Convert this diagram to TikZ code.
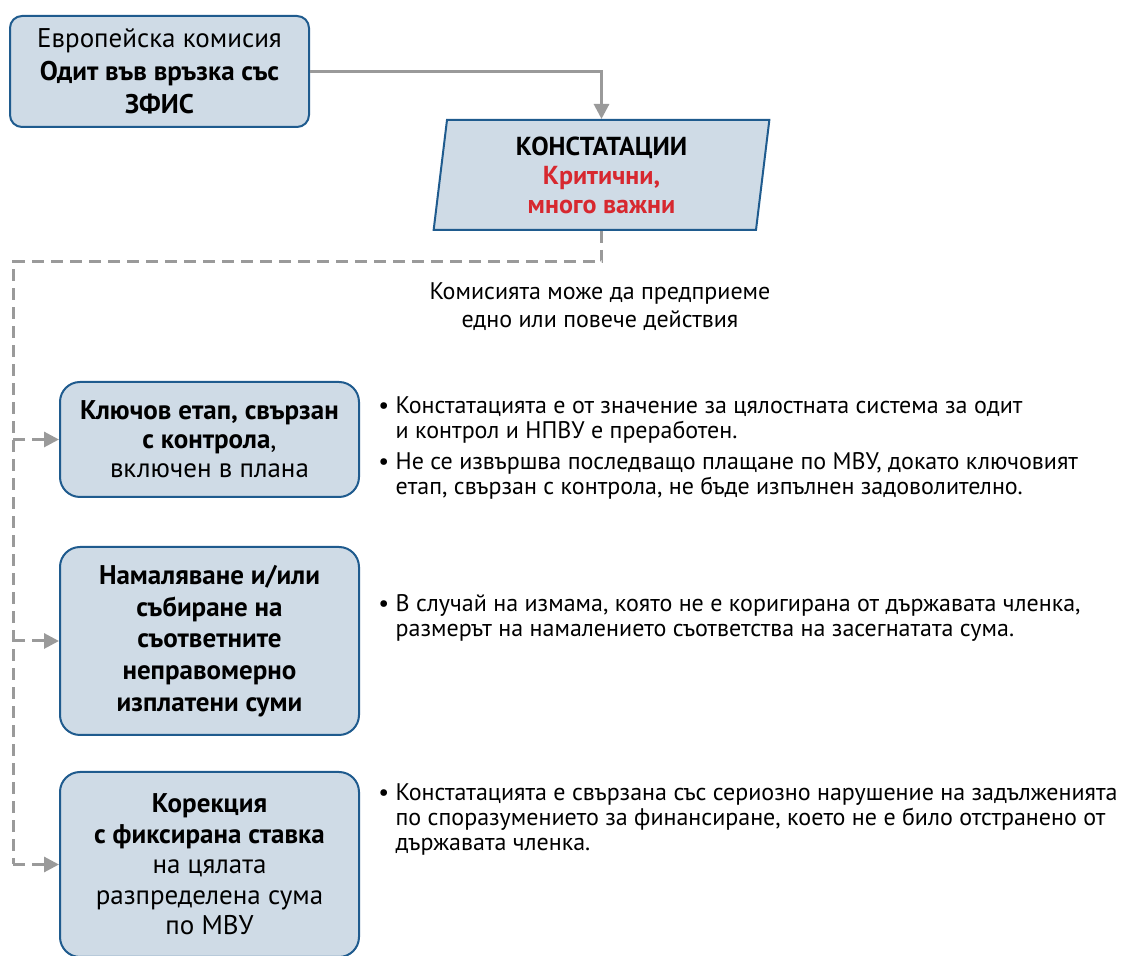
\documentclass[tikz,border=0pt]{standalone}
\usepackage{fontspec}
\setmainfont{PT Sans}
\usetikzlibrary{arrows.meta,positioning,shapes.geometric}
\definecolor{boxfill}{HTML}{CFDBE6}
\definecolor{boxline}{HTML}{1F5B8E}
\definecolor{linkgray}{HTML}{9A9A9A}
\definecolor{alertred}{HTML}{D7282F}
\tikzset{
  stage/.style={draw=boxline, fill=boxfill, line width=1pt, rounded corners=10pt,
    minimum width=149.5pt, align=center, inner sep=0pt,
    font=\fontsize{13.5}{15}\selectfont},
  finding/.style={trapezium, trapezium left angle=84.5, trapezium right angle=95.5,
    trapezium stretches=true, draw=boxline, fill=boxfill, line width=1pt,
    minimum width=168.5pt, minimum height=55pt, align=center, inner sep=0pt,
    font=\fontsize{13}{14.5}\selectfont},
  note/.style={align=left, anchor=north west, inner sep=0pt,
    font=\fontsize{12}{12.5}\selectfont},
  link/.style={linkgray, line width=1.5pt, -{Triangle[length=7.5pt,width=7.5pt]}},
  dashlink/.style={link, dash pattern=on 6pt off 3.5pt},
}
\begin{document}
\begin{tikzpicture}[x=0.5pt,y=-0.5pt]
  \useasboundingbox (0,0) rectangle (1121,956);
  \node[stage,rounded corners=6pt,minimum height=55.5pt,
        font=\fontsize{13.5}{16.5}\selectfont] (eu) at (159.5,71.5)
    {Европейска комисия\\\textbf{Одит във връзка със}\\\textbf{ЗФИС}};
  \node[finding] (findings) at (601.5,175)
    {\textbf{КОНСТАТАЦИИ}\\\textcolor{alertred}{\textbf{Критични,}}\\\textcolor{alertred}{\textbf{много важни}}};
  \node[align=center,font=\fontsize{12}{14}\selectfont] (actions) at (600,307)
    {Комисията може да предприеме\\едно или повече действия};
  \node[stage,minimum height=57.5pt,font=\fontsize{13.5}{14.5}\selectfont] (milestone) at (209.5,439.5)
    {\textbf{Ключов етап, свързан}\\\textbf{с контрола},\\включен в плана};
  \node[stage,minimum height=94pt,font=\fontsize{13.5}{15.8}\selectfont] (reduction) at (209.5,641)
    {\textbf{Намаляване и/или}\\\textbf{събиране на}\\\textbf{съответните}\\\textbf{неправомерно}\\\textbf{изплатени суми}};
  \node[stage,minimum height=92.5pt,font=\fontsize{13.5}{15.3}\selectfont] (correction) at (209.5,864.5)
    {\textbf{Корекция}\\\textbf{с фиксирана ставка}\\на цялата\\разпределена сума\\по МВУ};
  % bullet texts
  \node[note] (note1a) at (378,396)
    {• Констатацията е от значение за цялостната система за одит\\\hphantom{• }и контрол и НПВУ е преработен.};
  \node[note] (note1b) at (378,452)
    {• Не се извършва последващо плащане по МВУ, докато ключовият\\\hphantom{• }етап, свързан с контрола, не бъде изпълнен задоволително.};
  \node[note] (note2) at (378,594)
    {• В случай на измама, която не е коригирана от държавата членка,\\\hphantom{• }размерът на намалението съответства на засегнатата сума.};
  \node[note] (note3) at (378,783)
    {• Констатацията е свързана със сериозно нарушение на задълженията\\\hphantom{• }по споразумението за финансиране, което не е било отстранено от\\\hphantom{• }държавата членка.};
  % connectors
  \coordinate (fork) at (13,262);
  \draw[link] (eu.east) -| (findings.north);
  \draw[dashlink,-] (findings.south) |- (fork) -- (fork |- correction.west);
  \draw[dashlink] (fork |- milestone.west) -- (milestone.west);
  \draw[dashlink] (fork |- reduction.west) -- (reduction.west);
  \draw[dashlink] (fork |- correction.west) -- (correction.west);
\end{tikzpicture}
\end{document}
